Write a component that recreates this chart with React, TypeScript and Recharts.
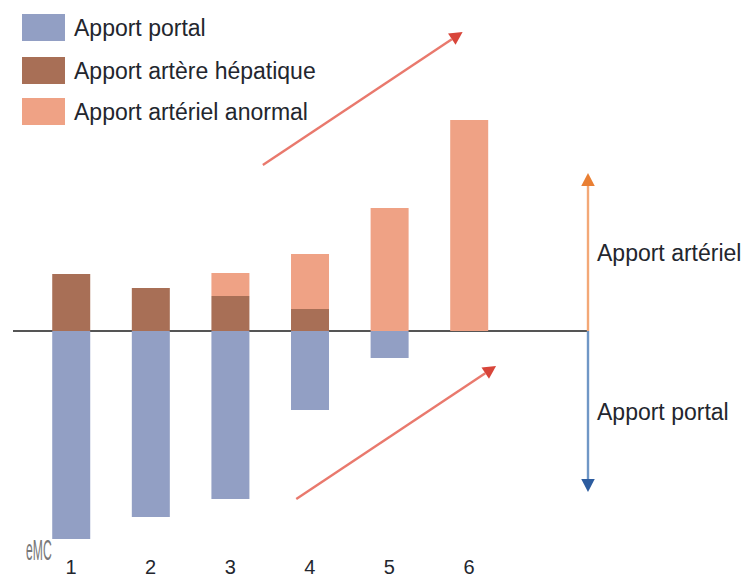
/** Stacked bars: apport portal vs apport artériel across six stages, zero line in the middle. */

import { BarChart, Bar, XAxis, YAxis, ReferenceLine } from 'recharts'

const stages = [1, 2, 3, 4, 5, 6]
const portal = [-208, -186, -168, -79, -27, 0]
const hepatic = [57, 43, 35, 22, 0, 0]
const abnormal = [0, 0, 23, 55, 123, 211]

const seriesNames = ['Apport portal', 'Apport artère hépatique', 'Apport artériel anormal']
const seriesColors = ['#929fc4', '#a86f56', '#efa285']

const sideLabels = ['Apport artériel', 'Apport portal']

// annotation arrows, in axis units: [x1, y1, x2, y2]
const trendArrows = [
  [3.41, 166, 5.92, 299],
  [3.83, -168, 6.34, -35],
]
const axisEndX = 7.495
const arterialTop = 158
const portalBottom = -161

const chartData = stages.map((s, i) => ({
  stage: s,
  portal: portal[i],
  hepatic: hepatic[i],
  abnormal: abnormal[i],
}))

const FONT = '"Liberation Sans", Arial, sans-serif'
const TEXT = '#23262e'

function Arrow(props: any) {
  const { x1, y1, x2, y2, shaft, head, size = 13, label } = props
  const a = Math.atan2(y2 - y1, x2 - x1)
  const baseX = x2 - Math.cos(a) * size
  const baseY = y2 - Math.sin(a) * size
  const nx = -Math.sin(a) * (size * 0.52)
  const ny = Math.cos(a) * (size * 0.52)
  return (
    <g>
      <line x1={x1} y1={y1} x2={baseX} y2={baseY} stroke={shaft} strokeWidth={2.4} />
      <polygon points={`${x2},${y2} ${baseX + nx},${baseY + ny} ${baseX - nx},${baseY - ny}`} fill={head} />
      {label && (
        <text x={x1 + 9} y={label.y} fontSize={23} fontFamily={FONT} fill={TEXT} dominantBaseline="central">
          {label.text}
        </text>
      )}
    </g>
  )
}

export default function App() {
  return (
    <div style={{ position: 'absolute', left: 0, top: 0, width: 744, height: 579, background: '#fff', fontFamily: FONT }}>
      <BarChart
        width={744}
        height={579}
        data={chartData}
        stackOffset="sign"
        barSize={38}
        margin={{ top: 10, right: 156, bottom: 0, left: 13 }}
      >
        <XAxis
          type="number"
          dataKey="stage"
          domain={[0.271, axisEndX]}
          ticks={stages}
          interval={0}
          allowDataOverflow
          axisLine={false}
          tickLine={false}
          height={39}
          tickMargin={14}
          tick={{ fontSize: 20, fill: TEXT, fontFamily: FONT }}
        />
        <YAxis hide domain={[-209, 321]} allowDataOverflow />
        <ReferenceLine y={0} stroke="#555" strokeWidth={2} zIndex={-1} />
        <Bar dataKey="portal" stackId="a" fill={seriesColors[0]} isAnimationActive={false} />
        <Bar dataKey="hepatic" stackId="a" fill={seriesColors[1]} isAnimationActive={false} />
        <Bar dataKey="abnormal" stackId="a" fill={seriesColors[2]} isAnimationActive={false} />
        {trendArrows.map((a, i) => (
          <ReferenceLine
            key={i}
            segment={[{ x: a[0], y: a[1] }, { x: a[2], y: a[3] }]}
            ifOverflow="visible"
            shape={(p: any) => <Arrow {...p} shaft="#e9796d" head="#d8453a" />}
          />
        ))}
        <ReferenceLine
          segment={[{ x: axisEndX, y: 0 }, { x: axisEndX, y: arterialTop }]}
          ifOverflow="visible"
          shape={(p: any) => (
            <Arrow {...p} shaft="#f3a877" head="#e97f33" label={{ text: sideLabels[0], y: 253 }} />
          )}
        />
        <ReferenceLine
          segment={[{ x: axisEndX, y: 0 }, { x: axisEndX, y: portalBottom }]}
          ifOverflow="visible"
          shape={(p: any) => (
            <Arrow {...p} shaft="#7097c6" head="#2c5c9f" label={{ text: sideLabels[1], y: 412 }} />
          )}
        />
      </BarChart>

      {seriesNames.map((name, i) => (
        <div key={name} style={{ position: 'absolute', left: 22, top: [14, 57, 98][i], height: 27, display: 'flex', alignItems: 'center' }}>
          <span style={{ width: 43, height: 27, background: seriesColors[i], marginRight: 9 }} />
          <span style={{ fontSize: 23, color: TEXT, whiteSpace: 'nowrap', position: 'relative', top: 1 }}>{name}</span>
        </div>
      ))}

      <span
        style={{
          position: 'absolute',
          left: 26,
          top: 533,
          fontSize: 29,
          lineHeight: '34px',
          color: '#777',
          transform: 'scaleX(0.42)',
          transformOrigin: 'left top',
        }}
      >
        eMC
      </span>
    </div>
  )
}
